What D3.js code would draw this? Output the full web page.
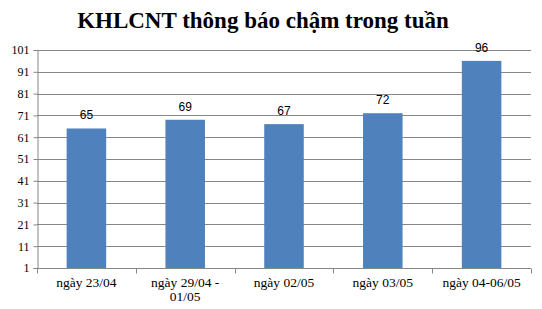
<!DOCTYPE html>
<html>
<head>
<meta charset="utf-8">
<script src="https://cdn.jsdelivr.net/npm/d3@7"></script>
<style>
  body { margin: 0; background: #fff; }
</style>
</head>
<body>
<div id="chart"></div>
<script>
const width = 542;
const height = 309;

const categories = ["ngày 23/04", "ngày 29/04 - 01/05", "ngày 02/05", "ngày 03/05", "ngày 04-06/05"];
const values = [65, 69, 67, 72, 96];
const yTicks = [1, 11, 21, 31, 41, 51, 61, 71, 81, 91, 101];

const margin = {top: 50, right: 11, bottom: 41, left: 37};

const svg = d3.select("#chart").append("svg")
    .attr("width", width)
    .attr("height", height);

svg.append("text")
    .attr("x", width / 2 - 8)
    .attr("y", 28)
    .attr("text-anchor", "middle")
    .style("font-family", "'Liberation Serif', 'Times New Roman', serif")
    .style("font-weight", "bold")
    .style("font-size", "23px")
    .text("KHLCNT thông báo chậm trong tuần");

const x = d3.scaleBand()
    .domain(categories)
    .range([margin.left, width - margin.right])
    .paddingInner(0.6)
    .paddingOuter(0.3);

const y = d3.scaleLinear()
    .domain([1, 101])
    .range([height - margin.bottom, margin.top]);

// gridlines
svg.append("g")
    .selectAll("line")
    .data(yTicks.slice(1))
    .join("line")
    .attr("x1", margin.left)
    .attr("x2", width - margin.right)
    .attr("y1", d => Math.round(y(d)) + 0.5)
    .attr("y2", d => Math.round(y(d)) + 0.5)
    .style("stroke", "#878787")
    .style("stroke-width", "1px");

// y axis
const yAxis = svg.append("g")
    .attr("transform", `translate(${margin.left + 0.5},0)`)
    .call(d3.axisLeft(y).tickValues(yTicks).tickSize(4).tickPadding(4));
yAxis.selectAll("text")
    .style("font-family", "'Liberation Serif', 'Times New Roman', serif")
    .style("font-size", "12px")
    .style("fill", "#000");
yAxis.selectAll("line, path").style("stroke", "#878787");

// bars
svg.append("g")
    .selectAll("rect")
    .data(values)
    .join("rect")
    .attr("x", (d, i) => x(categories[i]))
    .attr("y", d => y(d))
    .attr("width", x.bandwidth())
    .attr("height", d => y(1) - y(d))
    .style("fill", "#4F81BD");

// value labels
svg.append("g")
    .selectAll("text")
    .data(values)
    .join("text")
    .attr("x", (d, i) => x(categories[i]) + x.bandwidth() / 2)
    .attr("y", d => y(d) - 9)
    .attr("text-anchor", "middle")
    .style("font-family", "'Liberation Sans', Arial, sans-serif")
    .style("font-size", "12px")
    .text(d => d);

// x axis
const xAxis = svg.append("g")
    .attr("transform", `translate(0,${Math.round(y(1)) + 0.5})`);
xAxis.append("line")
    .attr("x1", margin.left)
    .attr("x2", width - margin.right)
    .style("stroke", "#878787");
const bounds = d3.range(categories.length + 1).map(i => margin.left + i * (width - margin.left - margin.right) / categories.length);
xAxis.selectAll(".tk")
    .data(bounds)
    .join("line")
    .attr("class", "tk")
    .attr("x1", d => Math.round(d) + 0.5)
    .attr("x2", d => Math.round(d) + 0.5)
    .attr("y1", 0)
    .attr("y2", 5)
    .style("stroke", "#878787");

const labelLines = [["ngày 23/04"], ["ngày 29/04 -", "01/05"], ["ngày 02/05"], ["ngày 03/05"], ["ngày 04-06/05"]];
xAxis.selectAll(".lbl")
    .data(categories)
    .join("text")
    .attr("class", "lbl")
    .attr("x", d => x(d) + x.bandwidth() / 2)
    .attr("y", 18)
    .attr("text-anchor", "middle")
    .style("font-family", "'Liberation Serif', 'Times New Roman', serif")
    .style("font-size", "13.5px")
    .each(function(d, i) {
        d3.select(this).selectAll("tspan")
            .data(labelLines[i])
            .join("tspan")
            .attr("x", x(d) + x.bandwidth() / 2)
            .attr("dy", (t, j) => j === 0 ? 0 : 14)
            .text(t => t);
    });
</script>
</body>
</html>
